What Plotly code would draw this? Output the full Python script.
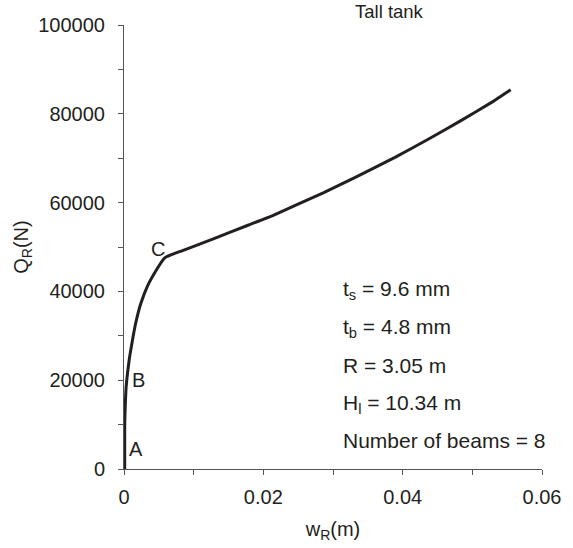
import plotly.graph_objects as go

# Load-displacement curve (Tall tank)
w_R = [0.0001, 0.0001, 0.0002, 0.0003, 0.0005, 0.0008, 0.0013, 0.0017, 0.0024, 0.0034,
       0.0048, 0.0057, 0.0061, 0.0084, 0.0131, 0.0178, 0.0215, 0.0286, 0.0332, 0.0389,
       0.0436, 0.0483, 0.0530, 0.0555]
Q_R = [0, 10000, 15000, 18300, 21500, 25200, 29800, 33000, 37200, 41300,
       45200, 47300, 47800, 49200, 52000, 54900, 57200, 62200, 65700, 70200,
       74200, 78400, 82800, 85400]

point_labels = ["A", "B", "C"]
point_x = [0.0017, 0.0021, 0.0049]
point_y = [4400, 20100, 49600]

param_lines = ["t<sub>s</sub> = 9.6 mm", "t<sub>b</sub> = 4.8 mm", "R = 3.05 m",
               "H<sub>l</sub> = 10.34 m", "Number of beams = 8"]
param_y = [40300, 31700, 23200, 14600, 6400]
param_x = 0.0311

INK = "#231f20"
AX = "#555555"
FONT = "Liberation Sans, Arial, sans-serif"

fig = go.Figure()
fig.add_trace(go.Scatter(x=w_R, y=Q_R, mode="lines",
                         line=dict(color=INK, width=3, shape="spline", smoothing=0.4),
                         showlegend=False, hoverinfo="skip"))

for t, x, y in zip(point_labels, point_x, point_y):
    fig.add_annotation(x=x, y=y, text=t, showarrow=False, xanchor="center", yanchor="middle",
                       font=dict(size=20, color=INK, family=FONT))

for t, y in zip(param_lines, param_y):
    fig.add_annotation(x=param_x, y=y, text=t, showarrow=False, xanchor="left", yanchor="middle",
                       font=dict(size=21, color=INK, family=FONT))

fig.add_annotation(xref="paper", yref="paper", x=0.636, y=1.031, text="Tall tank",
                   showarrow=False, xanchor="center", yanchor="middle",
                   font=dict(size=18.5, color=INK, family=FONT))

axis_common = dict(showline=True, linecolor=AX, linewidth=1, ticks="outside",
                   ticklen=5, tickcolor=AX, showgrid=False, zeroline=False,
                   tickfont=dict(size=20, color=INK, family=FONT))

fig.update_xaxes(range=[0, 0.06], dtick=0.02, tick0=0, ticklabelstandoff=5,
                 minor=dict(dtick=0.01, ticks="outside", ticklen=5, tickcolor=AX),
                 title=dict(text="w<sub>R</sub>(m)", font=dict(size=20, color=INK, family=FONT), standoff=14),
                 **axis_common)
fig.update_yaxes(range=[0, 100000], dtick=20000, tick0=0, tickformat="d", ticklabelstandoff=9,
                 minor=dict(dtick=10000, ticks="outside", ticklen=5, tickcolor=AX),
                 title=dict(text="Q<sub>R</sub>(N)", font=dict(size=20, color=INK, family=FONT), standoff=4),
                 **axis_common)

fig.update_layout(width=573, height=548, margin=dict(l=124, r=23, t=25, b=76),
                  paper_bgcolor="white", plot_bgcolor="white",
                  font=dict(family=FONT, color=INK))

fig.write_html("out.html")
